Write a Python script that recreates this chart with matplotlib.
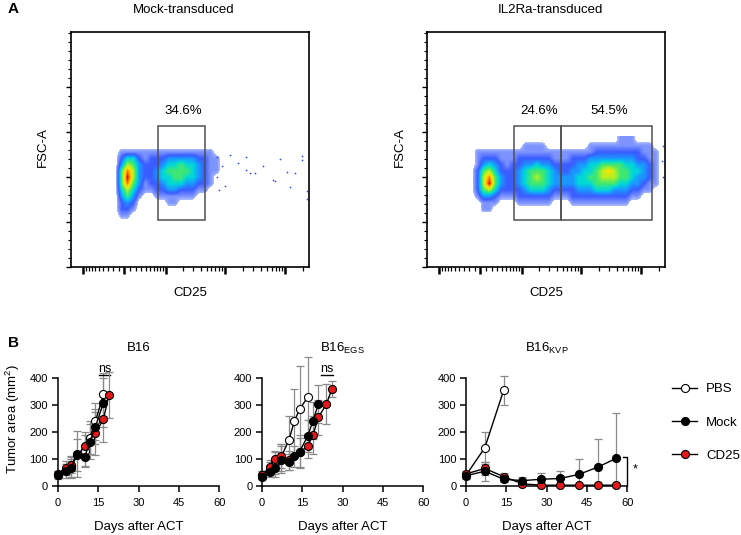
import numpy as np
import matplotlib.pyplot as plt
from matplotlib.colors import LinearSegmentedColormap, Normalize
from matplotlib.lines import Line2D
from matplotlib.patches import Rectangle

plt.rcParams['font.family'] = ['Liberation Sans', 'DejaVu Sans']
plt.rcParams['mathtext.fontset'] = 'custom'
plt.rcParams['mathtext.rm'] = 'Liberation Sans'
plt.rcParams['mathtext.it'] = 'Liberation Sans:italic'
plt.rcParams['mathtext.bf'] = 'Liberation Sans:bold'

# ---------------- A: flow dot plots ----------------
# dot density: 0 = empty, 9 = red core
# 40 columns across the CD25 axis, 14 rows for FSC-A 145 -> 47
mock_density = [
    "00000000 00000000 00000000 00000000 00000000",
    "00000000 00000000 00000000 00000000 00000000",
    "00000000 11111111 11111111 00000000 00000000",
    "00000000 24421222 33333221 10000000 00000000",
    "00000000 36532223 44544321 10000000 00000000",
    "00000000 58632234 55554321 10000000 00000000",
    "00000000 59632234 45544321 00000000 00000000",
    "00000000 58531223 44433221 00000000 00000000",
    "00000000 46421122 33222110 00000000 00000000",
    "00000000 35310011 11111000 00000000 00000000",
    "00000000 23200000 11000000 00000000 00000000",
    "00000000 22100000 00000000 00000000 00000000",
    "00000000 11000000 00000000 00000000 00000000",
    "00000000 00000000 00000000 00000000 00000000",
]
il2ra_density = [
    "00000000 00000000 00000000 00000000 11100000",
    "00000000 00000000 11110000 00011111 11111100",
    "00000000 11111111 11111111 11112222 22221110",
    "00000000 12221112 22222111 22233333 33322110",
    "00000000 13432122 33433222 23344555 54433210",
    "00000000 25642223 45554322 33445676 55443210",
    "00000000 26853223 45654333 34455666 55433210",
    "00000000 26953223 45554333 34445555 44332110",
    "00000000 25642222 34443222 23334443 33221100",
    "00000000 13321112 22222111 22222222 22110000",
    "00000000 01110001 11111000 11111111 11000000",
    "00000000 01100000 00000000 00000000 00000000",
    "00000000 00000000 00000000 00000000 00000000",
    "00000000 00000000 00000000 00000000 00000000",
]
density_fsc = (47, 145)

# sparse events to the right of the mock gate
mock_dots_cd25 = [7.3e3, 1.22e4, 2.25e4, 1.67e4, 2.25e4, 3.17e4, 4.35e4, 6.4e4, 8.2e4,
                  1.07e5, 1.46e5, 1.88e5, 1.88e5, 1.2e5, 2.28e5, 2.28e5, 6.8e4, 2.6e4,
                  8e3, 1.0e4, 7.5e3, 9e3]
mock_dots_fsc = [122, 124, 122, 115, 108, 104, 112, 97, 120, 106, 104, 123, 119, 89, 84,
                 76, 95, 104, 86, 90, 100, 112]
il2ra_dots_cd25 = [2.3e5, 2.2e5, 2.35e5]
il2ra_dots_fsc = [134, 118, 100]

mock_gates = [(718, 4700)]
mock_gate_labels = ['34.6%']
mock_label_x = [2000]
il2ra_gates = [(710, 4640), (4640, 1.53e5)]
il2ra_gate_labels = ['24.6%', '54.5%']
il2ra_label_x = [1980, 30000]
gate_fsc = (52, 157)
label_fsc = 173

flow_cmap = LinearSegmentedColormap.from_list('flow', [
    (0.0, '#a9b9ff'), (0.06, '#7d93ff'), (0.18, '#3a5cff'), (0.30, '#1a9aff'),
    (0.41, '#00d8d8'), (0.53, '#40e870'), (0.65, '#b8f020'), (0.76, '#ffe000'),
    (0.88, '#ff8000'), (1.0, '#e80000')])
flow_cmap.set_under((1, 1, 1, 0))


def fwd(x):
    return np.arcsinh(np.asarray(x, dtype=float) / 435.0)


def inv(y):
    return 435.0 * np.sinh(np.asarray(y, dtype=float))


fig = plt.figure(figsize=(7.41, 5.35), dpi=100)
W, H = 741.0, 535.0


def flow_panel(left_px, density, gates, labels, label_x, dots_x, dots_y):
    rect = [left_px / W, (H - 267) / H, 238 / W, 235 / H]
    grid = np.array([[int(c) for c in row.replace(' ', '')] for row in density], dtype=float)

    dens = fig.add_axes(rect)
    dens.set_axis_off()
    dens.imshow(grid, cmap=flow_cmap, norm=Normalize(0.5, 9),
                extent=(0, 1, density_fsc[0], density_fsc[1]), aspect='auto',
                interpolation='bilinear', interpolation_stage='data')
    dens.set_xlim(0, 1)
    dens.set_ylim(0, 261)

    ax = fig.add_axes(rect)
    ax.set_zorder(dens.get_zorder() + 1)
    ax.patch.set_visible(False)
    ax.set_xscale('function', functions=(fwd, inv))
    ax.set_xlim(-1650, 2.5e5)
    ax.set_ylim(0, 261)

    ax.scatter(dots_x, dots_y, s=1.5, color='#2a45ff', linewidths=0)

    for (x0, x1) in gates:
        ax.add_patch(Rectangle((x0, gate_fsc[0]), x1 - x0, gate_fsc[1] - gate_fsc[0],
                               fill=False, edgecolor='#505050', lw=1.1))
    for txt, lx in zip(labels, label_x):
        ax.text(lx, label_fsc, txt, ha='center', va='center', fontsize=9.5)

    ax.set_xticks([-1e3, 0, 1e3, 1e4, 1e5])
    minor = [s * k * 100 for s in (-1, 1) for k in range(1, 10)]
    minor += [k * 1e3 for k in range(2, 10)] + [k * 1e4 for k in range(2, 10)] + [2e5]
    ax.set_xticks(minor, minor=True)
    ax.set_yticks(np.arange(0, 201, 50))
    ax.set_yticks(np.arange(0, 261, 10), minor=True)
    ax.tick_params(axis='x', which='major', direction='out', length=5, width=1.8,
                   labelbottom=False)
    ax.tick_params(axis='x', which='minor', direction='out', length=3, width=0.9)
    ax.tick_params(axis='y', which='major', direction='out', length=3.5, width=1.0,
                   labelleft=False)
    ax.tick_params(axis='y', which='minor', direction='out', length=2, width=0.8)
    for sp in ax.spines.values():
        sp.set_linewidth(1.2)
    return ax


flow_panel(71, mock_density, mock_gates, mock_gate_labels, mock_label_x,
           mock_dots_cd25, mock_dots_fsc)
flow_panel(427, il2ra_density, il2ra_gates, il2ra_gate_labels, il2ra_label_x,
           il2ra_dots_cd25, il2ra_dots_fsc)

fig.text(8 / W, 1 - 9 / H, 'A', fontsize=11, fontweight='bold', va='center')
fig.text(184 / W, 1 - 10 / H, 'Mock-transduced', fontsize=9.5, ha='center', va='center')
fig.text(550 / W, 1 - 10 / H, 'IL2Ra-transduced', fontsize=9.5, ha='center', va='center')
for x in (43, 400):
    fig.text(x / W, 1 - 147 / H, 'FSC-A', fontsize=9.5, rotation=90,
             ha='center', va='center')
for x in (190, 546):
    fig.text(x / W, 1 - 293 / H, 'CD25', fontsize=9.5, ha='center', va='center')

# ---------------- B: tumor growth ----------------
b16_pbs_days = [0, 3, 5, 7, 10, 12, 14, 17]
b16_pbs_area = [42, 60, 72, 115, 130, 180, 240, 340]
b16_pbs_err = [12, 20, 40, 60, 60, 60, 70, 80]
b16_mock_days = [0, 3, 5, 7, 10, 12, 14, 17]
b16_mock_area = [40, 55, 65, 120, 108, 165, 220, 310]
b16_mock_err = [15, 25, 35, 85, 35, 65, 65, 90]
b16_cd25_days = [0, 3, 5, 10, 14, 17, 19]
b16_cd25_area = [45, 68, 78, 150, 196, 248, 338]
b16_cd25_err = [10, 25, 30, 50, 80, 85, 85]

egs_pbs_days = [0, 3, 5, 7, 10, 12, 14, 17]
egs_pbs_area = [40, 65, 85, 105, 170, 240, 285, 330]
egs_pbs_err = [15, 25, 40, 50, 90, 120, 160, 150]
egs_mock_days = [0, 3, 5, 7, 10, 12, 14, 17, 19, 21]
egs_mock_area = [35, 53, 65, 97, 90, 110, 128, 185, 243, 305]
egs_mock_err = [10, 20, 30, 50, 30, 40, 60, 60, 70, 70]
egs_cd25_days = [0, 3, 5, 7, 10, 14, 17, 19, 21, 24, 26]
egs_cd25_area = [42, 70, 100, 110, 95, 125, 148, 190, 255, 305, 360]
egs_cd25_err = [12, 25, 30, 45, 35, 55, 45, 70, 65, 75, 30]

kvp_pbs_days = [0, 7, 14]
kvp_pbs_area = [40, 142, 355]
kvp_pbs_err = [10, 60, 55]
kvp_mock_days = [0, 7, 14, 21, 28, 35, 42, 49, 56]
kvp_mock_area = [38, 55, 25, 20, 25, 28, 43, 70, 103]
kvp_mock_err = [12, 35, 10, 15, 22, 28, 57, 103, 168]
kvp_cd25_days = [0, 7, 14, 21, 28, 35, 42, 49, 56]
kvp_cd25_area = [45, 65, 35, 8, 3, 3, 3, 3, 3]
kvp_cd25_err = [10, 25, 15, 8, 0, 0, 0, 0, 0]

groups = ['PBS', 'Mock', 'CD25']
group_faces = ['white', 'black', '#e31a1c']


def draw_series(ax, days, area, err, face, z):
    area = np.array(area, dtype=float)
    err = np.array(err, dtype=float)
    lower = np.minimum(err, area)
    ax.errorbar(days, area, yerr=[lower, err], fmt='none', ecolor='#8a8a8a',
                elinewidth=0.9, capsize=2.8, capthick=0.9, zorder=z, clip_on=False)
    ax.plot(days, area, '-o', color='black', lw=1.0, ms=5.8, mfc=face, mec='black',
            mew=0.8, zorder=z + 5, clip_on=False)


def growth_panel(left_px, width_px, series, title, sub=None):
    ax = fig.add_axes([left_px / W, 49 / H, width_px / W, 107.7 / H])
    # PBS first, then CD25, Mock on top
    for (d, a, e), face, z in zip(series, group_faces, [2, 4, 3]):
        draw_series(ax, d, a, e, face, z)
    ax.set_xlim(0, 60)
    ax.set_ylim(0, 400)
    ax.set_xticks([0, 15, 30, 45, 60])
    ax.set_yticks([0, 100, 200, 300, 400])
    ax.spines['top'].set_visible(False)
    ax.spines['right'].set_visible(False)
    for sp in ('left', 'bottom'):
        ax.spines[sp].set_linewidth(1.1)
    ax.tick_params(direction='out', length=4, width=1.1, labelsize=8, pad=3)
    ax.tick_params(axis='x', pad=5)
    label = title if sub is None else title + r'$_{\mathregular{' + sub + '}}$'
    ax.text(0.5, 1 + 30 / 107.7, label, transform=ax.transAxes, ha='center',
            va='center', fontsize=9.5)
    fig.text((left_px + width_px / 2) / W, 1 - 527 / H, 'Days after ACT',
             fontsize=9.5, ha='center', va='center')
    return ax


ax1 = growth_panel(57.7, 161.6, [(b16_pbs_days, b16_pbs_area, b16_pbs_err),
                                 (b16_mock_days, b16_mock_area, b16_mock_err),
                                 (b16_cd25_days, b16_cd25_area, b16_cd25_err)], 'B16')
ax2 = growth_panel(262, 161.2, [(egs_pbs_days, egs_pbs_area, egs_pbs_err),
                                (egs_mock_days, egs_mock_area, egs_mock_err),
                                (egs_cd25_days, egs_cd25_area, egs_cd25_err)], 'B16', 'EGS')
ax3 = growth_panel(466, 161.2, [(kvp_pbs_days, kvp_pbs_area, kvp_pbs_err),
                                (kvp_mock_days, kvp_mock_area, kvp_mock_err),
                                (kvp_cd25_days, kvp_cd25_area, kvp_cd25_err)], 'B16', 'KVP')

# significance marks
ax1.plot([15.2, 19.5], [413, 413], color='black', lw=1.0, clip_on=False)
ax1.text(17.4, 434, 'ns', ha='center', va='center', fontsize=9)
ax2.plot([21.8, 26.3], [413, 413], color='black', lw=1.0, clip_on=False)
ax2.text(24.1, 434, 'ns', ha='center', va='center', fontsize=9)
ax3.plot([58.3, 60, 60], [108, 108, 0], color='black', lw=1.0, clip_on=False)
ax3.text(63, 62, '*', ha='center', va='center', fontsize=9)

fig.text(8 / W, 1 - 343 / H, 'B', fontsize=11, fontweight='bold', va='center')
fig.text(13 / W, 1 - 419 / H, 'Tumor area (mm$^2$)', fontsize=9.5, rotation=90,
         ha='center', va='center')

handles = [Line2D([], [], color='black', lw=1.0, marker='o', ms=5.8, mfc=f, mec='black',
                  mew=0.8) for f in group_faces]
fig.legend(handles, groups, loc='upper left', bbox_to_anchor=(672 / W, 1 - 383 / H),
           frameon=False, fontsize=9.5, handlelength=1.9, handletextpad=0.7,
           labelspacing=1.6, borderpad=0, borderaxespad=0)

fig.savefig('out.png', dpi=100)
